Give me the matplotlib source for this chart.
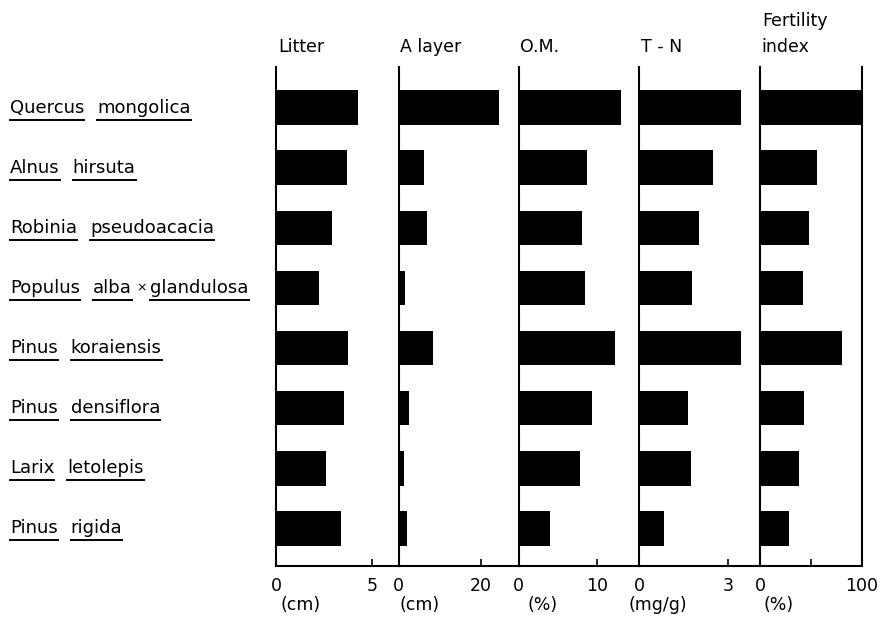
import matplotlib
matplotlib.use("Agg")
import matplotlib.pyplot as plt

species = [
    ["Quercus", "mongolica"],
    ["Alnus", "hirsuta"],
    ["Robinia", "pseudoacacia"],
    ["Populus", "alba", "×", "glandulosa"],
    ["Pinus", "koraiensis"],
    ["Pinus", "densiflora"],
    ["Larix", "letolepis"],
    ["Pinus", "rigida"],
]
litter = [4.23, 3.69, 2.92, 2.23, 3.71, 3.52, 2.57, 3.35]
a_layer = [24.4, 6.1, 7.0, 1.6, 8.3, 2.6, 1.3, 1.9]
om = [13.1, 8.8, 8.1, 8.5, 12.3, 9.4, 7.9, 4.0]
tn = [3.43, 2.49, 2.01, 1.78, 3.42, 1.65, 1.74, 0.84]
fertility = [100, 55.7, 48.5, 42, 81, 43.3, 38.3, 28.5]

titles = ["Litter", "A layer", "O.M.", "T - N", "Fertility\nindex"]
units = ["(cm)", "(cm)", "(%)", "(mg/g)", "(%)"]
tick_vals = [[0, 5], [0, 20], [0, 10], [0, 3], [0, 50, 100]]
tick_labels = [["0", "5"], ["0", "20"], ["0", "10"], ["0", "3"], ["0", "", "100"]]
xmax = [6.36, 29.2, 15.46, 4.07, 100]
series = [litter, a_layer, om, tn, fertility]

W, H = 882, 636
fig = plt.figure(figsize=(W / 100, H / 100), dpi=100)
plt.rcParams['font.family'] = ['DejaVu Sans']
FS = 12.5
FS_T = 12.5
FS_S = 13

edges = [276, 398.7, 518.7, 639.3, 760, 861.7]
ybot, ytop = 566, 67
unit_x = [301, 420, 543, 658, 779]

n = len(species)
for i in range(5):
    l, r = edges[i], edges[i + 1]
    ax = fig.add_axes([l / W, (H - ybot) / H, (r - l) / W, (ybot - ytop) / H])
    ax.barh(range(n), series[i], height=0.58, color="black")
    ax.set_xlim(0, xmax[i])
    ax.set_ylim(n - 1 + 0.63, -0.68)
    ax.set_yticks([])
    ax.set_xticks(tick_vals[i])
    ax.set_xticklabels(tick_labels[i], fontsize=FS)
    ax.tick_params(axis="x", direction="in", length=5, width=1.2, pad=8)
    ax.spines["top"].set_visible(False)
    ax.spines["right"].set_visible(i == 4)
    for s in ax.spines.values():
        s.set_linewidth(1.5)
    ax.patch.set_alpha(0)
    fig.text(l / W + 0.002, (H - 52) / H, titles[i], fontsize=FS_T, ha="left",
             va="baseline", linespacing=1.55)
    fig.text(unit_x[i] / W, (H - 605) / H, units[i], fontsize=FS, ha="center",
             va="center")

# species labels with underlined words
fig.canvas.draw()
renderer = fig.canvas.get_renderer()
for k, words in enumerate(species):
    yc = 108 + 60 * k
    x = 10
    for w in words:
        if w == "×":
            t = fig.text(x / W, (H - yc) / H, w, fontsize=9, ha="left", va="center")
            bb = t.get_window_extent(renderer=renderer)
            x += bb.width + 4
            continue
        t = fig.text(x / W, (H - yc) / H, w, fontsize=FS_S, ha="left", va="center")
        bb = t.get_window_extent(renderer=renderer)
        fig.add_artist(plt.Line2D([x / W, (x + bb.width) / W],
                                  [(H - yc - 12) / H, (H - yc - 12) / H],
                                  color="black", lw=1.4))
        x += bb.width + (4 if k == 3 and w == "alba" else 13)

fig.savefig("out.png", dpi=100)
